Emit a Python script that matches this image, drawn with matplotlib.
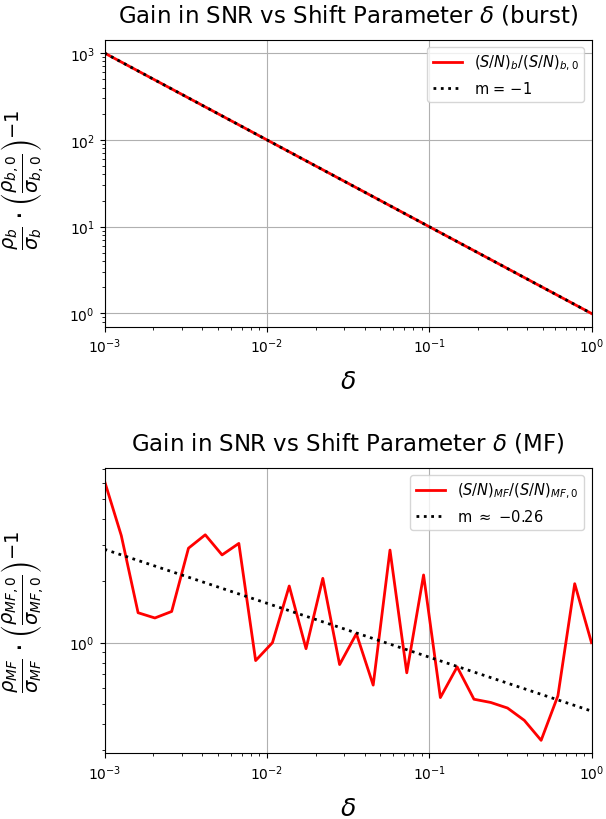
import numpy as np
import matplotlib
matplotlib.use("Agg")
import matplotlib.pyplot as plt

# ---- data ----
delta = np.logspace(-3, 0, 30)
gain_burst = 1.0 / delta
gain_mf = [6.15, 3.33, 1.40, 1.32, 1.42, 2.89, 3.36, 2.68, 3.05, 0.818,
           1.00, 1.89, 0.935, 2.06, 0.782, 1.106, 0.621, 2.83, 0.713, 2.14,
           0.540, 0.762, 0.530, 0.511, 0.480, 0.418, 0.334, 0.551, 1.94, 1.00]
gain_mf = np.array(gain_mf)

# power-law fits (slope, value at delta = 1)
slope_burst = -1.0
amp_burst = 1.0
slope_mf = -0.263
amp_mf = 0.464

fit_b = amp_burst * delta ** slope_burst
fit_m = amp_mf * delta ** slope_mf

fig = plt.figure(figsize=(6.06, 8.2), dpi=100)
W, H = 606, 820
def box(l, r, t, b):
    return [l / W, 1 - b / H, (r - l) / W, (b - t) / H]

ax1 = fig.add_axes(box(104.5, 591.5, 41, 327.5))
ax2 = fig.add_axes(box(104.5, 591.5, 469, 754.3))

# top
ax1.plot(delta, gain_burst, color="red", lw=2, label=r"$(S/N)_b/(S/N)_{b,0}$")
ax1.plot(delta, fit_b, color="black", ls=":", lw=2, label=r"m = $%d$" % round(slope_burst))
ax1.set_xscale("log")
ax1.set_yscale("log")
ax1.set_xlim(1e-3, 1)
ax1.grid(True)
ax1.set_title(r"Gain in SNR vs Shift Parameter $\delta$ (burst)", fontsize=16.5, pad=13)
ax1.set_xlabel(r"$\delta$", fontsize=18, labelpad=10)
ax1.set_ylabel(r"$\frac{\rho_b}{\sigma_b} \cdot \left(\frac{\rho_{b,0}}{\sigma_{b,0}}\right)^{-1}$",
               fontsize=20)
ax1.yaxis.set_label_coords(-0.118, 0.515)
ax1.legend(loc="upper right", fontsize=10.5)

# bottom
ax2.plot(delta, gain_mf, color="red", lw=2, label=r"$(S/N)_{MF}/(S/N)_{MF,0}$")
ax2.plot(delta, fit_m, color="black", ls=":", lw=2, label=r"m $\approx$ $%.2f$" % slope_mf)
ax2.set_xscale("log")
ax2.set_yscale("log")
ax2.set_xlim(1e-3, 1)
ax2.grid(True)
ax2.set_title(r"Gain in SNR vs Shift Parameter $\delta$ (MF)", fontsize=16.5, pad=13)
ax2.set_xlabel(r"$\delta$", fontsize=18, labelpad=10)
ax2.set_ylabel(r"$\frac{\rho_{MF}}{\sigma_{MF}} \cdot \left(\frac{\rho_{MF,0}}{\sigma_{MF,0}}\right)^{-1}$",
               fontsize=20)
ax2.yaxis.set_label_coords(-0.118, 0.5)
ax2.legend(loc="upper right", fontsize=10.5)

fig.savefig("out.png", dpi=100)
